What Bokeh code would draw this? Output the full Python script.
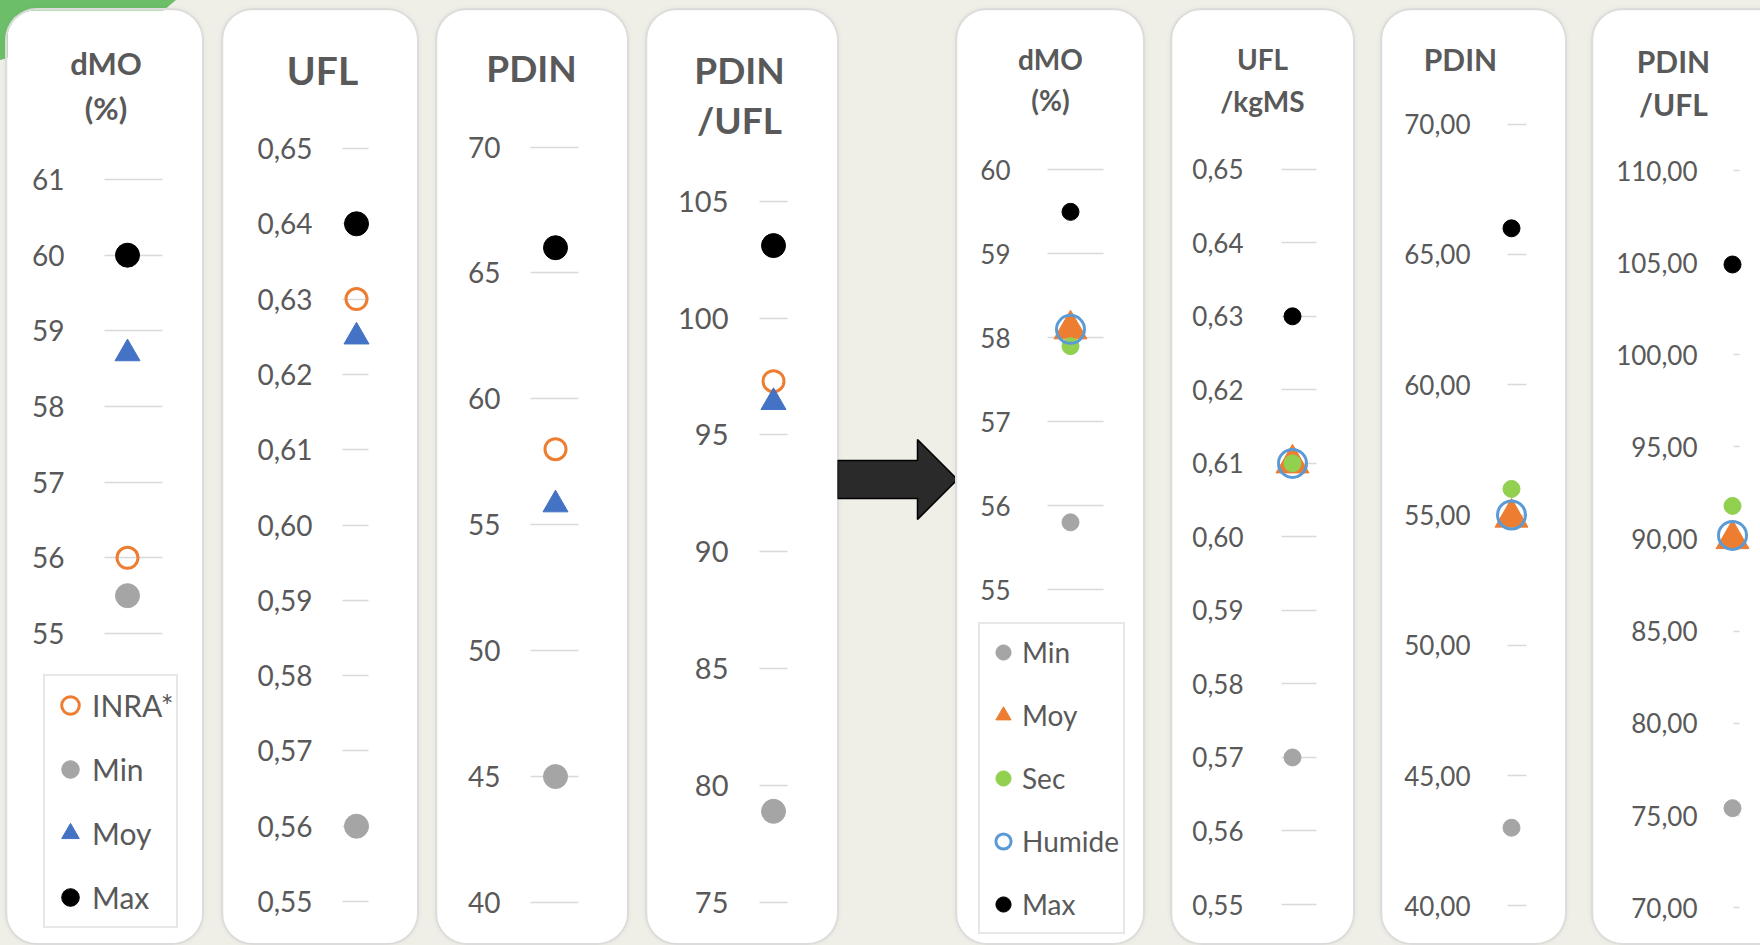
from bokeh.embed import file_html
from bokeh.layouts import row
from bokeh.models import ColumnDataSource, FixedTicker, Label, Legend, LegendItem, Range1d
from bokeh.plotting import figure
from bokeh.resources import INLINE
from bokeh.transform import dodge

# ---------------------------------------------------------------------------
# Values: left block = INRA reference ranges, right block = measured forages
# ---------------------------------------------------------------------------
LEFT_SERIES = ["INRA*", "Min", "Moy", "Max"]
left_titles = [["dMO", "(%)"], ["UFL"], ["PDIN"], ["PDIN", "/UFL"]]
left_inra = [56.0, 0.63, 58.0, 97.3]
left_min = [55.5, 0.56, 45.0, 78.9]
left_moy = [58.7, 0.625, 55.8, 96.4]
left_max = [60.0, 0.64, 66.0, 103.1]
left_ticks = [
    [55, 56, 57, 58, 59, 60, 61],
    [0.55, 0.56, 0.57, 0.58, 0.59, 0.60, 0.61, 0.62, 0.63, 0.64, 0.65],
    [40, 45, 50, 55, 60, 65, 70],
    [75, 80, 85, 90, 95, 100, 105],
]
left_tick_labels = [
    ["55", "56", "57", "58", "59", "60", "61"],
    ["0,55", "0,56", "0,57", "0,58", "0,59", "0,60", "0,61", "0,62", "0,63", "0,64", "0,65"],
    ["40", "45", "50", "55", "60", "65", "70"],
    ["75", "80", "85", "90", "95", "100", "105"],
]

RIGHT_SERIES = ["Min", "Moy", "Sec", "Humide", "Max"]
right_titles = [["dMO", "(%)"], ["UFL", "/kgMS"], ["PDIN"], ["PDIN", "/UFL"]]
right_min = [55.8, 0.57, 43.0, 75.4]
right_moy = [58.1, 0.61, 54.9, 90.0]
right_sec = [57.9, 0.61, 56.0, 91.8]
right_humide = [58.1, 0.61, 55.0, 90.2]
right_max = [59.5, 0.63, 66.0, 104.9]
right_ticks = [
    [55, 56, 57, 58, 59, 60],
    [0.55, 0.56, 0.57, 0.58, 0.59, 0.60, 0.61, 0.62, 0.63, 0.64, 0.65],
    [40, 45, 50, 55, 60, 65, 70],
    [70, 75, 80, 85, 90, 95, 100, 105, 110],
]
right_tick_labels = [
    ["55", "56", "57", "58", "59", "60"],
    ["0,55", "0,56", "0,57", "0,58", "0,59", "0,60", "0,61", "0,62", "0,63", "0,64", "0,65"],
    ["40,00", "45,00", "50,00", "55,00", "60,00", "65,00", "70,00"],
    ["70,00", "75,00", "80,00", "85,00", "90,00", "95,00", "100,00", "105,00", "110,00"],
]

# ---------------------------------------------------------------------------
# Styling
# ---------------------------------------------------------------------------
PAGE_W, PAGE_H = 1760, 945
CARD_TOP, CARD_BOTTOM = 10, 943
TEXT = "#595959"
GRID = "#d9d9d9"
TICK_FONT = "Lato"
TITLE_FONT = "Lato"

left_style = {
    "INRA*": dict(marker="circle", size=21, fill_color=None, line_color="#ED7D31", line_width=3),
    "Min": dict(marker="circle", size=24, fill_color="#A5A5A5", line_color="#A5A5A5", line_width=1),
    "Moy": dict(marker="triangle", size=25, fill_color="#4472C4", line_color="#4472C4", line_width=1),
    "Max": dict(marker="circle", size=24, fill_color="#000000", line_color="#000000", line_width=1),
}
right_style = {
    "Min": dict(marker="circle", size=17, fill_color="#A5A5A5", line_color="#A5A5A5", line_width=1),
    "Moy": dict(marker="triangle", size=33, fill_color="#ED7D31", line_color="#ED7D31", line_width=1),
    "Sec": dict(marker="circle", size=17, fill_color="#92D050", line_color="#92D050", line_width=1),
    "Humide": dict(marker="circle", size=28, fill_color=None, line_color="#5B9BD5", line_width=3),
    "Max": dict(marker="circle", size=17, fill_color="#000000", line_color="#000000", line_width=1),
}

# page geometry of each card (pixels): card edges, tick-line extent, marker column,
# pixel rows of the outermost ticks, label gap, fonts and title placement
left_geom = [
    dict(card=(7, 202), grid=(104, 162), point=127, top=179, bot=633, standoff=40, tick_px=28,
         title_x=105.5, title_y=[62.4, 107.3], title_px=31),
    dict(card=(223, 417), grid=(342, 368), point=356, top=148, bot=901, standoff=30, tick_px=28,
         title_x=322, title_y=[69.2], title_px=39),
    dict(card=(437, 627), grid=(530, 578), point=555, top=146.5, bot=902, standoff=30, tick_px=28,
         title_x=531, title_y=[66.7], title_px=37),
    dict(card=(647, 837), grid=(759, 787), point=773, top=200.7, bot=902, standoff=31, tick_px=29,
         title_x=739, title_y=[68.8, 118.7], title_px=37),
]
right_geom = [
    dict(card=(957, 1143), grid=(1047, 1103), point=1070, top=169.4, bot=589, standoff=37, tick_px=26,
         title_x=1050, title_y=[58.7, 99.4], title_px=28),
    dict(card=(1172, 1353), grid=(1281, 1316), point=1292, top=168.8, bot=904, standoff=38, tick_px=26,
         title_x=1262, title_y=[58.7, 100.5], title_px=28),
    dict(card=(1382, 1565), grid=(1507, 1526), point=1511, top=123.6, bot=905.4, standoff=37, tick_px=26,
         title_x=1460, title_y=[58.0], title_px=30),
    dict(card=(1593, 1760), grid=(1733, 1739), point=1732, top=170, bot=907.2, standoff=36, tick_px=26,
         title_x=1673, title_y=[60.7, 103.7], title_px=30),
]

CARD_CSS = {
    "border-radius": "30px",
    "overflow": "hidden",
    "box-shadow": "0 0 0 2px #dcdcdc, 0 0 5px 2px rgba(0,0,0,0.05)",
}


def make_panel(geom, title_lines, ticks, tick_labels, series, values, styles, legend_box=None,
               legend_cfg=None, margin_left=0, clip_right=False):
    cx0, cx1 = geom["card"]
    gx0, gx1 = geom["grid"]
    width = cx1 - cx0
    height = CARD_BOTTOM - CARD_TOP
    lo, hi = ticks[0], ticks[-1]
    k = (geom["bot"] - geom["top"]) / (hi - lo)
    y_end = hi + (geom["top"] - CARD_TOP) / k
    y_start = lo - (CARD_BOTTOM - geom["bot"]) / k

    cat = " ".join(title_lines)
    css = dict(CARD_CSS)
    if clip_right:
        css["border-radius"] = "30px 0 0 30px"
    p = figure(
        width=width, height=height, x_range=[cat], y_range=Range1d(y_start, y_end),
        x_axis_location=None, y_axis_location="left", toolbar_location=None,
        output_backend="svg", min_border=0, outline_line_color=None,
        background_fill_color="white", border_fill_color="white",
        margin=(CARD_TOP, 0, 0, margin_left), styles=css,
    )
    p.grid.visible = False

    # the value axis sits inside the card; its major ticks form the short guide lines,
    # drawn beneath the markers
    ax = p.yaxis[0]
    ax.level = "underlay"
    ax.fixed_location = (gx0 - cx0) / width
    ax.ticker = FixedTicker(ticks=ticks)
    ax.major_label_overrides = dict(zip(ticks, tick_labels))
    ax.axis_line_color = None
    ax.minor_tick_line_color = None
    ax.major_tick_line_color = GRID
    ax.major_tick_line_width = 1.5
    ax.major_tick_out = 0
    ax.major_tick_in = gx1 - gx0
    ax.major_label_standoff = geom["standoff"]
    ax.major_label_text_font = TICK_FONT
    ax.major_label_text_font_size = f"{geom['tick_px']}px"
    ax.major_label_text_color = TEXT

    shift = (geom["point"] - cx0) / width - 0.5
    renderers = {}
    for name, val in zip(series, values):
        src = ColumnDataSource(dict(x=[cat], y=[val]))
        renderers[name] = p.scatter(x=dodge("x", shift, range=p.x_range), y="y", source=src,
                                    **styles[name])

    for line, ty in zip(title_lines, geom["title_y"]):
        p.add_layout(Label(
            x=geom["title_x"] - cx0, y=CARD_BOTTOM - ty, x_units="screen", y_units="screen",
            text=line, text_align="center", text_baseline="middle",
            text_font=TITLE_FONT, text_font_style="bold",
            text_font_size=f"{geom['title_px']}px", text_color=TEXT,
        ))

    if legend_box is not None:
        lx, lbottom = legend_box
        legend = Legend(
            items=[LegendItem(label=n, renderers=[renderers[n]]) for n in series],
            location=(lx - cx0, CARD_BOTTOM - lbottom),
            border_line_color="#d0d0d0", border_line_width=2,
            background_fill_color="white", background_fill_alpha=1.0,
            label_text_font=TICK_FONT, label_text_color=TEXT,
            **legend_cfg,
        )
        p.add_layout(legend)
    return p


children = []
prev_right = 0
for i in range(4):
    g = left_geom[i]
    vals = [left_inra[i], left_min[i], left_moy[i], left_max[i]]
    kw = {}
    if i == 0:
        kw = dict(legend_box=(43, 928), legend_cfg=dict(
            label_text_font_size="30px", glyph_width=44, glyph_height=52,
            spacing=12, padding=3, label_standoff=0, margin=0))
    p = make_panel(g, left_titles[i], left_ticks[i], left_tick_labels[i], LEFT_SERIES, vals,
                   left_style, margin_left=g["card"][0] - prev_right, **kw)
    children.append(p)
    prev_right = g["card"][1]

# block arrow between the two groups of cards
arrow_w = right_geom[0]["card"][0] - prev_right
arrow_h = CARD_BOTTOM - CARD_TOP
arrow = figure(
    width=arrow_w, height=arrow_h, x_range=Range1d(0, arrow_w), y_range=Range1d(0, arrow_h),
    x_axis_location=None, y_axis_location=None, toolbar_location=None, output_backend="svg",
    min_border=0, outline_line_color=None, background_fill_alpha=0, border_fill_alpha=0,
    margin=(CARD_TOP, 0, 0, 0),
)
arrow.grid.visible = False
shaft_half, head_half, head_len = 19, 40, 40
mid = arrow_h - 469
arrow.patch(
    x=[0, arrow_w - head_len, arrow_w - head_len, arrow_w, arrow_w - head_len, arrow_w - head_len, 0],
    y=[mid + shaft_half, mid + shaft_half, mid + head_half, mid, mid - head_half, mid - shaft_half,
       mid - shaft_half],
    fill_color="#2a2a2a", line_color="#000000", line_width=1.5,
)
children.append(arrow)
prev_right = right_geom[0]["card"][0]

for i in range(4):
    g = right_geom[i]
    vals = [right_min[i], right_moy[i], right_sec[i], right_humide[i], right_max[i]]
    kw = {}
    if i == 0:
        kw = dict(legend_box=(978, 934), legend_cfg=dict(
            label_text_font_size="28px", glyph_width=38, glyph_height=48,
            spacing=15, padding=4, label_standoff=0, margin=0))
    p = make_panel(g, right_titles[i], right_ticks[i], right_tick_labels[i], RIGHT_SERIES, vals,
                   right_style, margin_left=g["card"][0] - prev_right, clip_right=(i == 3), **kw)
    children.append(p)
    prev_right = g["card"][1]

green_corner = (
    "url(\"data:image/svg+xml;utf8,<svg xmlns='http://www.w3.org/2000/svg' width='200' height='80'>"
    "<polygon points='0,0 176,0 152,20 0,60' fill='%236cbf68'/></svg>\")"
)
layout = row(
    children, width=PAGE_W, height=PAGE_H, spacing=0,
    styles={
        "background-color": "#f0efe7",
        "background-image": green_corner,
        "background-repeat": "no-repeat",
        "overflow": "hidden",
    },
)

open("out.html", "w").write(file_html(layout, INLINE))
